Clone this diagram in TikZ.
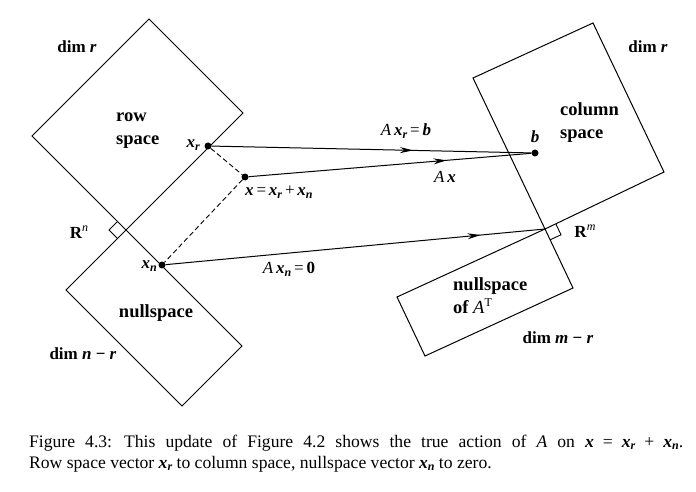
\documentclass[tikz,border=0pt]{standalone}
\usepackage{fontspec}
\setmainfont{Liberation Serif}
\usetikzlibrary{arrows.meta,decorations.markings}
\newcommand{\bi}[1]{\textbf{\textit{#1}}}
\newcommand{\lo}[1]{\raisebox{-0.35ex}{\fontsize{12}{12}\selectfont #1}}
\newcommand{\hi}[1]{\raisebox{0.85ex}{\fontsize{12}{12}\selectfont #1}}
\newcommand{\fsp}{\hspace{9pt}}
\tikzset{
  region/.style={draw, line width=1pt},
  dot/.style={circle, fill, inner sep=0pt, minimum size=7pt},
  lbl/.style={inner sep=0pt, font=\fontsize{17}{20}\selectfont},
  big/.style={inner sep=0pt, align=left, font=\fontsize{18.5}{23}\selectfont\bfseries},
  vec/.style={line width=1pt},
  midarrow/.style={postaction={decorate}, decoration={markings,
    mark=at position #1 with {\arrow{Stealth[length=13pt,width=6pt]}}}},
  captext/.style={inner sep=0pt, anchor=base west, font=\fontsize{17.6}{21}\selectfont}
}
\begin{document}
\begin{tikzpicture}[x=1pt,y=-1pt]
\path[use as bounding box] (0,0) rectangle (696,492);
% corners
\coordinate (Cn) at (126,230);
\coordinate (Cm) at (545,229);
% row space
\draw[region] (149,19) -- (243,113) -- (Cn) -- (32,136) -- cycle;
% nullspace
\draw[region] (Cn) -- (242,346) -- (182,406) -- (66,290) -- cycle;
% column space
\draw[region] (473,78) -- (593,23) -- (664,172) -- (Cm) -- cycle;
% left nullspace
\draw[region] (Cm) -- (573,288) -- (425,356) -- (397,297) -- cycle;
% right angle markers
\draw[line width=0.9pt] ([shift={(-8.5,-8.5)}]Cn) -- ++(-8.5,8.5) -- ++(8.5,8.5);
\draw[line width=0.9pt] ([shift={(10.9,-5)}]Cm) -- ++(5.1,10.8) -- ++(-10.9,5);
% points
\node[dot] (xr) at (208,146) {};
\node[dot] (x) at (245,177) {};
\node[dot] (xn) at (162,265) {};
\node[dot] (b) at (535,153) {};
% connectors
\draw[vec, midarrow=0.63] (xr) -- (b);
\draw[vec, midarrow=0.70] (x) -- (b);
\draw[vec, midarrow=0.83] (xn) -- (Cm);
\draw[line width=0.9pt, dashed, dash pattern=on 5pt off 3pt] (xr) -- (x) -- (xn);
% labels
\node[lbl] (dr1) at (77,47) {\textbf{dim \textit{r}}};
\node[big, anchor=west] (rs) at (116,131) {row\\space};
\node[lbl, anchor=east] (lxr) at (200,145) {\bi{x}\lo{\bi{r}}};
\node[lbl, anchor=west] (lx) at (245,192) {\bi{x}\,=\,\bi{x}\lo{\bi{r}}\,+\,\bi{x}\lo{\bi{n}}};
\node[lbl, anchor=east] (lxn) at (157,266) {\bi{x}\lo{\bi{n}}};
\node[lbl] (Rn) at (79,232) {\textbf{R}\hi{\textit{n}}};
\node[big] (ns) at (156,313) {nullspace};
\node[lbl] (dnr) at (83,354) {\textbf{dim \textit{n} \textminus{} \textit{r}}};
\node[lbl] (lAxr) at (406,131) {\textit{A}\,\bi{x}\lo{\bi{r}}\,=\,\bi{b}};
\node[lbl] (lAx) at (445,177) {\textit{A}\,\bi{x}};
\node[lbl] (lb) at (535,137) {\bi{b}};
\node[big, anchor=west] (cs) at (560,123) {column\\space};
\node[lbl] (dr2) at (648,47) {\textbf{dim \textit{r}}};
\node[lbl] (Rm) at (585,231) {\textbf{R}\hi{\textit{m}}};
\node[big, anchor=west] (lns) at (453,296) {nullspace\\of \textit{\mdseries A}\hi{\mdseries T}};
\node[lbl] (dmr) at (558,338) {\textbf{dim \textit{m} \textminus{} \textit{r}}};
\node[lbl] (lAxn) at (289,269) {\textit{A}\,\bi{x}\lo{\bi{n}}\,=\,\textbf{0}};
% caption
\node[captext] (cap1) at (29,447) {\makebox[654pt][s]{Figure 4.3:\hspace{12pt}This update of Figure 4.2 shows the true action of \textit{A} on \bi{x}\fsp=\fsp\bi{x}\lo{\bi{r}}\fsp+\fsp\bi{x}\lo{\bi{n}}.}};
\node[captext] (cap2) at (29,468) {Row space vector \bi{x}\lo{\bi{r}} to column space, nullspace vector \bi{x}\lo{\bi{n}} to zero.};
\end{tikzpicture}
\end{document}
